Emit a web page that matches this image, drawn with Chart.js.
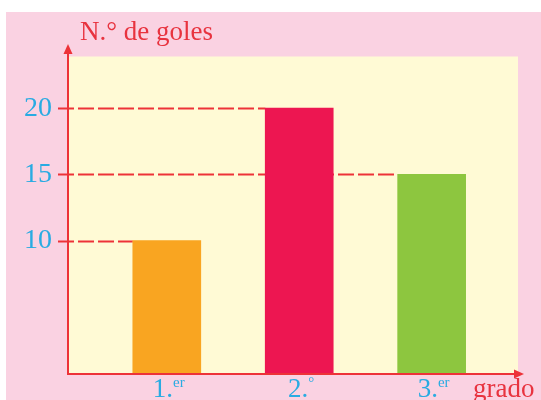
<!DOCTYPE html>
<html>
<head>
<meta charset="utf-8">
<script src="https://cdn.jsdelivr.net/npm/chart.js@4/dist/chart.umd.min.js"></script>
<style>
  html, body { margin: 0; padding: 0; background: #ffffff; }
  canvas { display: block; }
</style>
</head>
<body>
<canvas id="c" width="541" height="400"></canvas>
<script>
// ---- data ----
const categories = ['1.', '2.', '3.'];
const superscripts = ['er', '°', 'er'];
const categoryPositions = [1, 2, 3];
const goals = [10, 20, 15];
const yTickValues = [10, 15, 20];
const barColors = ['#f9a521', '#ed1651', '#8dc63f'];
const yAxisTitle = 'N.° de goles';
const xAxisTitle = 'grado';

const PINK = '#fad2e2';
const YELLOW = '#fffad5';
const AXIS_RED = '#ed3238';
const TITLE_RED = '#e8333f';
const BLUE = '#29abe2';
const SERIF = "'Liberation Serif', 'DejaVu Serif', serif";

const decorPlugin = {
  id: 'decor',
  beforeDraw(chart) {
    const ctx = chart.ctx, a = chart.chartArea;
    ctx.save();
    ctx.fillStyle = '#ffffff';
    ctx.fillRect(0, 0, chart.width, chart.height);
    ctx.fillStyle = PINK;
    ctx.fillRect(6, 12, chart.width - 6, chart.height - 12);
    ctx.fillStyle = YELLOW;
    ctx.fillRect(a.left, a.top, a.right - a.left, a.bottom - a.top);
    ctx.restore();
  },
  beforeDatasetsDraw(chart) {
    const ctx = chart.ctx, a = chart.chartArea;
    const meta = chart.getDatasetMeta(0);
    ctx.save();
    ctx.strokeStyle = AXIS_RED;
    ctx.lineWidth = 2;
    ctx.setLineDash([16, 4]);
    meta.data.forEach(bar => {
      const y = Math.round(bar.y) + 0.5;
      ctx.beginPath();
      ctx.moveTo(a.left - 10, y);
      ctx.lineTo(bar.x - bar.width / 2, y);
      ctx.stroke();
    });
    ctx.restore();
  },
  afterDatasetsDraw(chart) {
    const ctx = chart.ctx, a = chart.chartArea;
    const xs = chart.scales.x;
    ctx.save();
    // axes
    ctx.strokeStyle = AXIS_RED;
    ctx.fillStyle = AXIS_RED;
    ctx.lineWidth = 2;
    ctx.beginPath();
    ctx.moveTo(a.left, a.bottom + 1);
    ctx.lineTo(a.left, 52);
    ctx.stroke();
    ctx.beginPath();
    ctx.moveTo(a.left, 44);
    ctx.lineTo(a.left - 4.5, 54);
    ctx.lineTo(a.left + 4.5, 54);
    ctx.closePath();
    ctx.fill();
    ctx.beginPath();
    ctx.moveTo(a.left - 1, a.bottom + 1);
    ctx.lineTo(a.right - 3, a.bottom + 1);
    ctx.stroke();
    ctx.beginPath();
    ctx.moveTo(a.right + 6, a.bottom + 1);
    ctx.lineTo(a.right - 4, a.bottom - 3.5);
    ctx.lineTo(a.right - 4, a.bottom + 5.5);
    ctx.closePath();
    ctx.fill();

    // x tick labels with superscripts
    ctx.textBaseline = 'alphabetic';
    ctx.fillStyle = BLUE;
    categoryPositions.forEach((v, i) => {
      const cx = xs.getPixelForValue(v);
      ctx.font = '27px ' + SERIF;
      const w1 = ctx.measureText(categories[i]).width;
      ctx.font = '15px ' + SERIF;
      const w2 = ctx.measureText(superscripts[i]).width;
      const start = cx - (w1 + w2) / 2 + 2;
      ctx.font = '27px ' + SERIF;
      ctx.textAlign = 'left';
      ctx.fillText(categories[i], start, 397);
      ctx.font = '15px ' + SERIF;
      ctx.fillText(superscripts[i], start + w1, 387);
    });

    // axis titles
    ctx.fillStyle = TITLE_RED;
    ctx.textAlign = 'left';
    ctx.font = '27px ' + SERIF;
    ctx.fillText(yAxisTitle, 80, 39.5);
    ctx.font = '27px ' + SERIF;
    ctx.fillText(xAxisTitle, 473, 397);
    ctx.restore();
  }
};

new Chart(document.getElementById('c'), {
  type: 'bar',
  data: {
    datasets: [{
      data: goals.map((v, i) => ({ x: categoryPositions[i], y: v })),
      backgroundColor: barColors,
      borderWidth: 0,
      barThickness: 68
    }]
  },
  options: {
    responsive: false,
    animation: false,
    devicePixelRatio: 1,
    layout: { padding: { left: 0, right: 23, top: 56.5, bottom: 0 } },
    plugins: { legend: { display: false }, tooltip: { enabled: false }, title: { display: false } },
    scales: {
      x: {
        type: 'linear',
        offset: false,
        min: 0.254,
        max: 3.652,
        grid: { display: false, offset: false },
        border: { display: false },
        ticks: { display: false },
        afterBuildTicks: s => { s.ticks = categoryPositions.map(v => ({ value: v })); },
        afterFit: s => { s.height = 27; s.paddingLeft = 0; s.paddingRight = 0; }
      },
      y: {
        min: 0,
        max: 23.9,
        grid: { display: false, drawTicks: false },
        border: { display: false },
        ticks: {
          color: BLUE,
          padding: 16,
          font: { family: SERIF, size: 28 }
        },
        afterBuildTicks: s => { s.ticks = yTickValues.map(v => ({ value: v })); },
        afterFit: s => { s.width = 68; s.paddingTop = 0; s.paddingBottom = 0; }
      }
    }
  },
  plugins: [decorPlugin]
});
</script>
</body>
</html>
